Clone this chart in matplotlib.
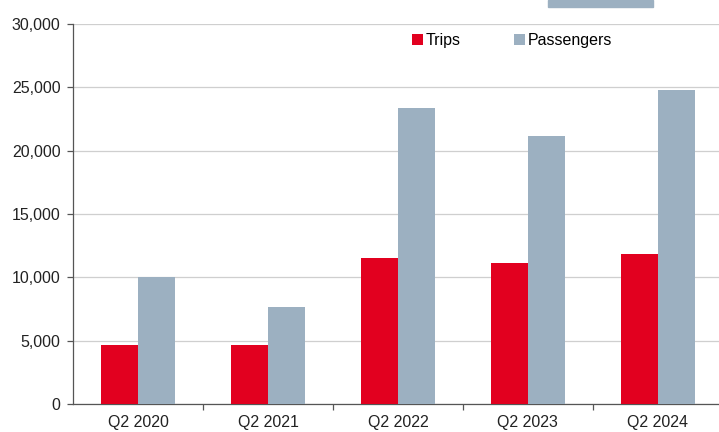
import matplotlib
matplotlib.use("Agg")
import matplotlib.pyplot as plt
from matplotlib.patches import Rectangle
import numpy as np

categories = ["Q2 2020", "Q2 2021", "Q2 2022", "Q2 2023", "Q2 2024"]
trips = [4630, 4630, 11550, 11100, 11870]
passengers = [10050, 7680, 23370, 21150, 24780]
yticks = [0, 5000, 10000, 15000, 20000, 25000, 30000]

plt.rcParams['font.family'] = ['Liberation Sans', 'DejaVu Sans']

fig = plt.figure(figsize=(7.19, 4.32), dpi=100)
ax = fig.add_axes([73/719, (432-404)/432, (719-73)/719, 380/432])

x = np.arange(len(categories))
w = 0.285
red = "#E2001F"
grey = "#9CB0C1"
ax.bar(x - w/2, trips, w, color=red, label="Trips", zorder=3)
ax.bar(x + w/2, passengers, w, color=grey, label="Passengers", zorder=3)

fs = 11.5
ax.set_ylim(0, 30000)
ax.set_xlim(-0.5, 4.47)
ax.set_yticks(yticks)
ax.set_yticklabels([f"{v:,}" for v in yticks], fontsize=fs, color="#222222")
ax.yaxis.grid(True, color="#cfcfcf", linewidth=0.9, zorder=0)
ax.set_axisbelow(True)

ax.set_xticks(x)
ax.set_xticklabels(categories, fontsize=fs, color="#222222")
ax.set_xticks(np.arange(0.5, 4.0, 1.0), minor=True)
ax.tick_params(axis='x', which='major', length=0, pad=8)
ax.tick_params(axis='x', which='minor', length=4, width=0.9, color="#555555")
ax.tick_params(axis='y', length=4, width=0.9, color="#555555", pad=5)

for s in ["top", "right"]:
    ax.spines[s].set_visible(False)
ax.spines["left"].set_color("#555555")
ax.spines["bottom"].set_color("#555555")
ax.spines["left"].set_linewidth(0.9)
ax.spines["bottom"].set_linewidth(0.9)

leg = ax.legend(loc="upper left", bbox_to_anchor=((406-73)/646, 0.992), ncol=2,
                frameon=False, fontsize=fs, handlelength=0.65, handleheight=0.65,
                handletextpad=0.2, columnspacing=3.35, borderaxespad=0)

fig.patches.append(Rectangle((548/719, 1 - 7/432), 105/719, 7/432,
                             transform=fig.transFigure, color=grey, zorder=5))

fig.savefig("out.png", dpi=100)
